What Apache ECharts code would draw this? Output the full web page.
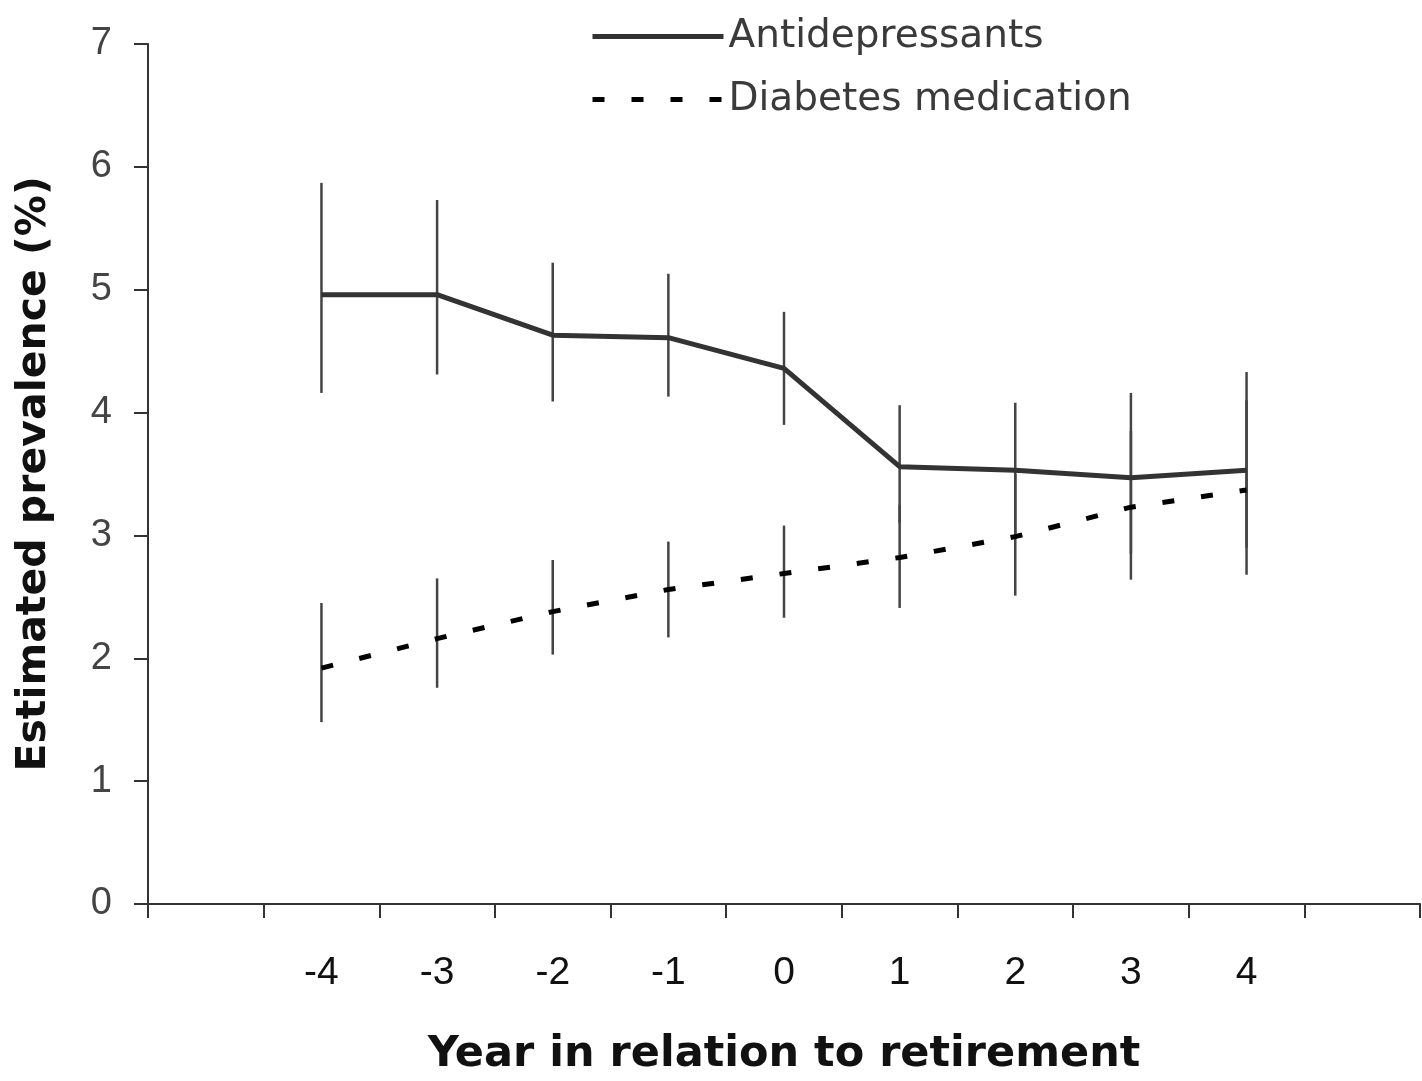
<!DOCTYPE html>
<html>
<head>
<meta charset="utf-8">
<script src="https://cdn.jsdelivr.net/npm/echarts@6/dist/echarts.min.js"></script>
<style>
html,body{margin:0;padding:0;background:#fff;}
#chart{width:1422px;height:1081px;}
</style>
</head>
<body>
<div id="chart"></div>
<script>
// Categories (empty slots at both ends, as in the reference)
var categories = ['', '-4', '-3', '-2', '-1', '0', '1', '2', '3', '4', ' '];
var years = ['-4', '-3', '-2', '-1', '0', '1', '2', '3', '4'];
var yTicks = [0, 1, 2, 3, 4, 5, 6, 7];

// Antidepressants: estimate and 95% CI
var antiMean = [4.96, 4.96, 4.63, 4.61, 4.36, 3.56, 3.53, 3.47, 3.53];
var antiLow  = [4.16, 4.31, 4.09, 4.13, 3.90, 3.10, 3.00, 2.85, 2.90];
var antiHigh = [5.87, 5.73, 5.22, 5.13, 4.82, 4.06, 4.08, 4.16, 4.33];

// Diabetes medication: estimate and 95% CI
var diabMean = [1.92, 2.16, 2.38, 2.56, 2.69, 2.82, 2.99, 3.23, 3.37];
var diabLow  = [1.48, 1.76, 2.03, 2.17, 2.33, 2.41, 2.51, 2.64, 2.68];
var diabHigh = [2.45, 2.65, 2.80, 2.95, 3.08, 3.25, 3.50, 3.85, 4.10];

var FONT = "'Liberation Sans Narrow', 'Liberation Sans', Arial, sans-serif";
var FONT_WIDE = "'DejaVu Sans', 'Liberation Sans', Arial, sans-serif";

function pairs(vals) { return years.map(function (y, i) { return [y, vals[i]]; }); }
function ciData(lo, hi) { return years.map(function (y, i) { return [y, lo[i], hi[i]]; }); }

function errRender(params, api) {
  var x = api.value(0);
  var p1 = api.coord([x, api.value(1)]);
  var p2 = api.coord([x, api.value(2)]);
  return {
    type: 'line',
    shape: { x1: p1[0], y1: p1[1], x2: p2[0], y2: p2[1] },
    style: { stroke: '#444', lineWidth: 2.5 }
  };
}

var chart = echarts.init(document.getElementById('chart'), null, { renderer: 'canvas' });
chart.setOption({
  animation: false,
  backgroundColor: '#ffffff',
  grid: { left: 148, right: 2, top: 44, bottom: 177, containLabel: false },
  legend: {
    data: ['Antidepressants', 'Diabetes medication'],
    orient: 'vertical',
    left: 585,
    top: 12,
    itemWidth: 131,
    itemHeight: 40,
    itemGap: 24,
    itemTextGap: 6,
    itemStyle: { opacity: 0, borderWidth: 0 },
    lineStyle: { width: 5 },
    textStyle: { fontFamily: FONT_WIDE, fontSize: 39, color: '#3a3a3a' }
  },
  xAxis: {
    type: 'category',
    data: categories,
    boundaryGap: true,
    axisLine: { lineStyle: { color: '#333', width: 2 } },
    axisTick: { show: true, length: 14, interval: 0, lineStyle: { color: '#333', width: 2 } },
    axisLabel: { interval: 0, margin: 50, fontFamily: FONT, fontSize: 39, color: '#111' },
    name: 'Year in relation to retirement',
    nameLocation: 'middle',
    nameGap: 129,
    nameTextStyle: { fontFamily: FONT_WIDE, fontSize: 43, fontWeight: 'bold', color: '#111' },
    splitLine: { show: false }
  },
  yAxis: {
    type: 'value',
    min: 0,
    max: 7,
    interval: 1,
    axisLine: { show: true, lineStyle: { color: '#333', width: 2 } },
    axisTick: { show: true, length: 14, lineStyle: { color: '#333', width: 2 } },
    axisLabel: { margin: 36, fontFamily: FONT, fontSize: 38, color: '#444',
      formatter: function (v) { return yTicks.indexOf(v) >= 0 ? String(v) : ''; } },
    splitLine: { show: false },
    name: 'Estimated prevalence (%)',
    nameLocation: 'middle',
    nameGap: 93,
    nameTextStyle: { fontFamily: FONT_WIDE, fontSize: 41, fontWeight: 'bold', color: '#111' }
  },
  series: [
    {
      name: 'CI Antidepressants',
      type: 'custom',
      renderItem: errRender,
      data: ciData(antiLow, antiHigh),
      encode: { x: 0, y: [1, 2] },
      z: 1
    },
    {
      name: 'CI Diabetes',
      type: 'custom',
      renderItem: errRender,
      data: ciData(diabLow, diabHigh),
      encode: { x: 0, y: [1, 2] },
      z: 1
    },
    {
      name: 'Antidepressants',
      type: 'line',
      data: pairs(antiMean),
      symbol: 'none',
      showSymbol: false,
      color: '#333',
      lineStyle: { color: '#333', width: 5 },
      z: 3
    },
    {
      name: 'Diabetes medication',
      type: 'line',
      data: pairs(diabMean),
      symbol: 'none',
      showSymbol: false,
      color: '#000',
      lineStyle: { color: '#000', width: 5, type: [12, 27] },
      z: 3
    }
  ]
});
</script>
</body>
</html>
